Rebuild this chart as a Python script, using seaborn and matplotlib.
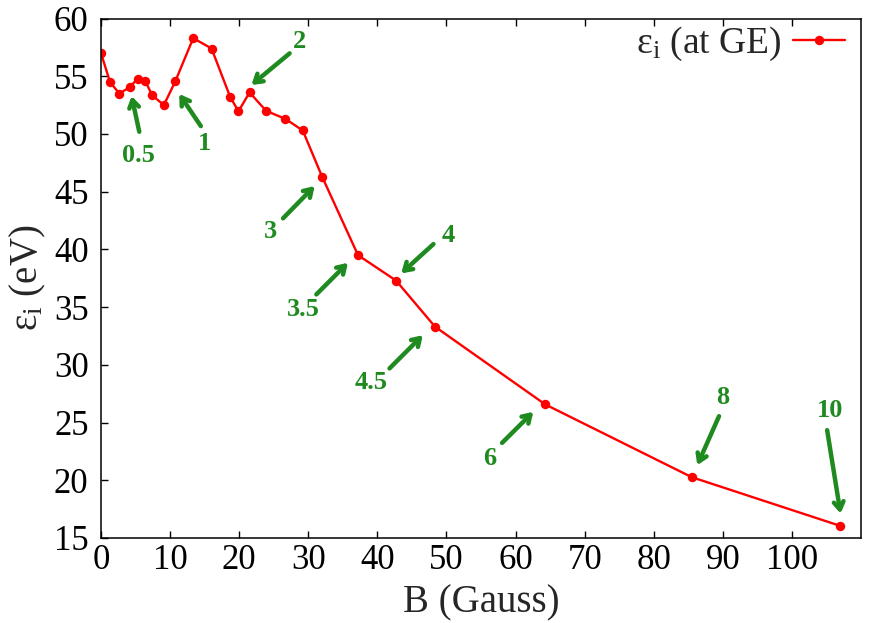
import matplotlib
matplotlib.use("Agg")
import matplotlib.pyplot as plt
import seaborn as sns

# ---- data ----
B_gauss = [0, 1.3, 2.65, 4.2, 5.3, 6.4, 7.4, 9.1, 10.75, 13.35, 16.0, 18.7, 19.9,
           21.5, 23.9, 26.7, 29.2, 32.0, 37.2, 42.7, 48.35, 64.3, 85.5, 107.0]
eps_i = [57.0, 54.5, 53.5, 54.06, 54.8, 54.6, 53.35, 52.5, 54.55, 58.3, 57.4, 53.2, 51.96,
         53.6, 52.0, 51.3, 50.3, 46.3, 39.5, 37.3, 33.3, 26.57, 20.27, 16.05]

ann_labels = ["0.5", "1", "2", "3", "3.5", "4", "4.5", "6", "8", "10"]
# arrow head (x, y), arrow tail (x, y), label position (x, y) in data units
ann_head = [(4.43, 53.28), (11.32, 53.46), (21.78, 54.24), (30.92, 45.49), (35.74, 38.84),
            (43.45, 37.92), (46.58, 32.57), (62.57, 25.93), (86.31, 21.31), (107.04, 17.12)]
ann_tail = [(5.54, 50.19), (14.45, 50.68), (27.3, 56.98), (26.35, 42.69), (31.17, 36.1),
            (48.12, 40.46), (41.76, 29.69), (58.05, 23.24), (89.45, 25.55), (105.1, 24.34)]
ann_text = [(5.4, 48.17), (15.03, 49.18), (28.76, 57.99), (24.52, 41.53), (29.24, 34.8),
            (50.29, 41.24), (39.11, 28.44), (56.31, 21.89), (89.93, 27.18), (105.45, 26.01)]

x_ticks = list(range(0, 101, 10))
y_ticks = list(range(15, 61, 5))

sns.set_style("ticks")
plt.rcParams["font.family"] = ["Liberation Serif", "DejaVu Serif"]
plt.rcParams["mathtext.fontset"] = "custom"
plt.rcParams["mathtext.rm"] = "Liberation Serif"
plt.rcParams["mathtext.it"] = "Liberation Serif:italic"
plt.rcParams["mathtext.bf"] = "Liberation Serif:bold"

fig = plt.figure(figsize=(8.72, 6.23), dpi=100)
ax = fig.add_axes([101/872, 1-538/623, (861-101)/872, (538-18.5)/623])

sns.lineplot(x=B_gauss, y=eps_i, ax=ax, color="#ff0000", marker="o", markersize=6.8,
             markeredgewidth=0, linewidth=1.7, sort=False,
             label=r"ε$_{\mathrm{i}}$ (at GE)")

green = "#1f8a1f"
for lab, head, tail, tpos in zip(ann_labels, ann_head, ann_tail, ann_text):
    ax.annotate("", xy=head, xytext=tail,
                arrowprops=dict(arrowstyle="->,head_length=0.55,head_width=0.35",
                                color=green, lw=3.2, shrinkA=0, shrinkB=0))
    ax.text(tpos[0], tpos[1], lab, color=green, fontsize=19, fontweight="bold",
            ha="center", va="center")

ax.set_xlim(0, 110)
ax.set_ylim(15, 60)
ax.set_xticks(x_ticks)
ax.set_yticks(y_ticks)
ax.tick_params(axis="both", direction="in", length=5, width=1.0, labelsize=25,
               colors="black")
ax.tick_params(axis="x", top=True, pad=4)
ax.tick_params(axis="y", right=False, pad=9)
for s in ax.spines.values():
    s.set_visible(True)
    s.set_linewidth(1.1)
    s.set_color("black")

ax.set_xlabel("B (Gauss)", fontsize=28, labelpad=6)
ax.set_ylabel(r"ε$_{\mathrm{i}}$ (eV)", fontsize=28, labelpad=4)

leg = ax.legend(loc="upper right", bbox_to_anchor=(845/872, 1-25/623),
                bbox_transform=fig.transFigure, frameon=False, fontsize=27,
                markerfirst=False, handlelength=1.4, handletextpad=0.3,
                borderpad=0, borderaxespad=0)

fig.savefig("out.png", dpi=100)
